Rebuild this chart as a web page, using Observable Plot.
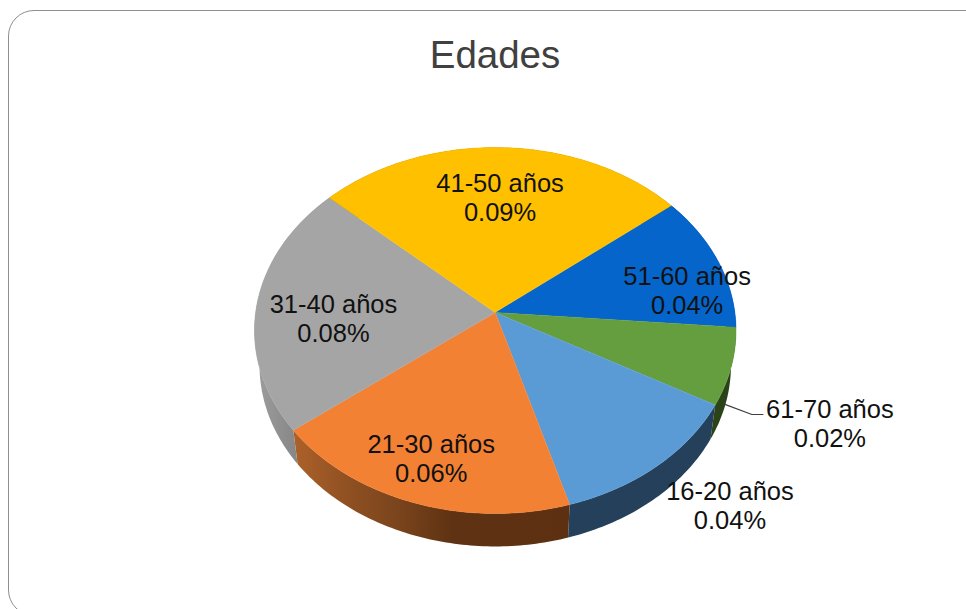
<!DOCTYPE html>
<html lang="es">
<head>
<meta charset="utf-8">
<title>Edades</title>
<script src="https://cdn.jsdelivr.net/npm/d3@7"></script>
<script src="https://cdn.jsdelivr.net/npm/@observablehq/plot@0.6"></script>
<style>
  html, body { margin: 0; padding: 0; background: #fff; overflow: hidden; }
  #page { position: relative; width: 966px; height: 609px; overflow: hidden; font-family: "Liberation Sans", Arial, sans-serif; }
  #frame { position: absolute; left: 8px; top: 10px; width: 985px; height: 606px; box-sizing: border-box;
           border: 1px solid #8f8f8f; border-radius: 26px; }
  #title { position: absolute; left: 0; top: 0; width: 990px; height: 80px; line-height: 109px; text-align: center;
           font-size: 38.5px; color: #404040; }
  #chart { position: absolute; left: 0; top: 80px; }
  #chart svg { display: block; }
</style>
</head>
<body>
<div id="page">
  <div id="frame"></div>
  <div id="title">Edades</div>
  <div id="chart"></div>
</div>
<script>
// Data, clockwise from the 51-60 slice
const categories = ["51-60 años", "61-70 años", "16-20 años", "21-30 años", "31-40 años", "41-50 años"];
const sliceValues = [0.042, 0.025, 0.048, 0.075, 0.0795, 0.0905];
const valueLabels = ["0.04%", "0.02%", "0.04%", "0.06%", "0.08%", "0.09%"];

// Styling
const topColors = ["#0565CB", "#659E3F", "#5B9BD5", "#F38134", "#A5A5A5", "#FFC000"];
const wallColors = ["#033A75", "#2A4318", "#24405A", "url(#wallOrange)", "url(#wallGray)", "#8A6800"];

// Layout, in pie units (rim = ±1)
const firstAngle = 47;
const apexY = 0.098;
const wallShift = { x: 0.979, y: 0.989, dy: -0.191 };
const labelX = [0.797, 1.39, 0.975, -0.266, -0.672, 0.02];
const labelY = [0.222, -0.505, -0.953, -0.696, 0.069, 0.73];
const leaderX = [0.954, 1.066, 1.112];
const leaderY = [-0.404, -0.459, -0.459];

const total = d3.sum(sliceValues);
let cursor = firstAngle;
const slices = categories.map((name, i) => {
  const start = cursor;
  const end = cursor + sliceValues[i] / total * 360;
  cursor = end;
  return { name, start, end };
});
const rim = (s) => {
  const n = Math.max(2, Math.ceil(s.end - s.start) + 1);
  return d3.range(n).map(k => {
    const a = (s.start + (s.end - s.start) * k / (n - 1)) * Math.PI / 180;
    return [Math.sin(a), Math.cos(a)];
  });
};
const topShape = (s) => [[0, apexY], ...rim(s)].map(([x, y]) => ({ x, y }));
const wallShape = (s) => {
  const r = rim(s);
  const lower = r.slice().reverse().map(([x, y]) => [x * wallShift.x, y * wallShift.y + wallShift.dy]);
  return [...r, ...lower].map(([x, y]) => ({ x, y }));
};

const gradientDefs = () => {
  const defs = d3.create("svg:defs");
  const add = (id, stops) => {
    const g = defs.append("linearGradient").attr("id", id).attr("x1", 0).attr("x2", 1).attr("y1", 0).attr("y2", 0);
    stops.forEach(([o, c]) => g.append("stop").attr("offset", o).attr("stop-color", c));
  };
  add("wallOrange", [[0, "#AD612A"], [0.2, "#8F5022"], [0.38, "#7A441C"], [0.58, "#5E3212"], [1, "#5C3011"]]);
  add("wallGray", [[0, "#9E9E9E"], [0.55, "#868686"], [1, "#6E6E6E"]]);
  return defs.node();
};

const labels = categories.map((c, i) => ({ x: labelX[i], y: labelY[i], text: `${c}\n${valueLabels[i]}` }));
const leader = leaderX.map((x, i) => ({ x, y: leaderY[i] }));

const chart = Plot.plot({
  width: 966,
  height: 529,
  margin: 0,
  style: { background: "transparent", overflow: "visible" },
  x: { domain: [-1, 1], range: [254, 735.5], axis: null },
  y: { domain: [1, -1], range: [67, 433], axis: null },
  marks: [
    gradientDefs,
    ...slices.map((s, i) => Plot.line(wallShape(s), { x: "x", y: "y", fill: wallColors[i], stroke: "none" })),
    ...slices.map((s, i) => Plot.line(topShape(s), { x: "x", y: "y", fill: topColors[i], stroke: topColors[i], strokeWidth: 0.5 })),
    Plot.line(leader, { x: "x", y: "y", stroke: "#404040", strokeWidth: 1.2 }),
    Plot.text(labels, {
      x: "x", y: "y", text: "text",
      fontSize: 25.5, lineHeight: 1.17, fill: "#111",
      fontFamily: "'Liberation Sans', Arial, sans-serif"
    })
  ]
});
document.getElementById("chart").append(chart);
</script>
</body>
</html>
